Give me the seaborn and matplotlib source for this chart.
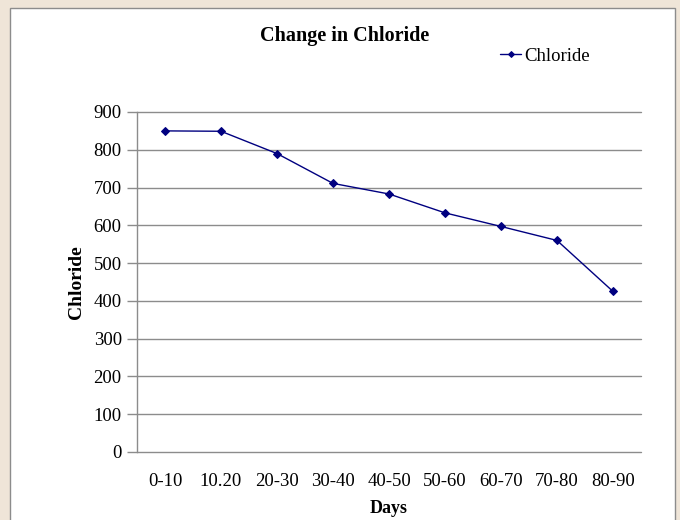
import matplotlib
matplotlib.use("Agg")
import matplotlib.pyplot as plt
import seaborn as sns
import pandas as pd
from matplotlib.patches import Rectangle

days = ["0-10", "10.20", "20-30", "30-40", "40-50", "50-60", "60-70", "70-80", "80-90"]
chloride = [850, 849, 790, 711, 683, 633, 597, 560, 425]
y_ticks = [0, 100, 200, 300, 400, 500, 600, 700, 800, 900]

df = pd.DataFrame({"Days": days, "Chloride": chloride})

sns.set_theme(style="white")
plt.rcParams["font.family"] = ["Liberation Serif", "DejaVu Serif"]
plt.rcParams["text.color"] = "black"
plt.rcParams["axes.labelcolor"] = "black"

fig = plt.figure(figsize=(6.8, 5.2), dpi=100)
fig.patch.set_facecolor("#efe5d8")

# white chart panel with grey frame, drawn beneath the axes
panel = Rectangle((10 / 680, -0.05), 665 / 680, 1 - 8 / 520 + 0.05,
                  transform=fig.transFigure, facecolor="white",
                  edgecolor="#8c8c8c", linewidth=1.0, zorder=-10)
fig.patches.append(panel)

ax = fig.add_axes([137 / 680, 1 - 452 / 520, (641 - 137) / 680, (452 - 112) / 520])
ax.patch.set_alpha(0)

sns.lineplot(data=df, x="Days", y="Chloride", ax=ax, color="#000080",
             marker="D", markersize=4, linewidth=1.0, sort=False,
             label="Chloride", markeredgecolor="#000080")

ax.set_xlim(-0.5, len(days) - 0.5)
ax.set_ylim(0, 900)
ax.set_yticks(y_ticks)
ax.yaxis.grid(False)
for v in y_ticks:
    ax.axhline(v, color="#8c8c8c", linewidth=1.0, zorder=0, clip_on=False)
for side in ["top", "right", "bottom"]:
    ax.spines[side].set_visible(False)
ax.spines["left"].set_color("#8c8c8c")
ax.spines["left"].set_linewidth(1.0)
ax.tick_params(axis="y", which="major", left=True, length=7, width=1,
               color="#8c8c8c", labelsize=13.5, pad=4, labelcolor="black")
ax.tick_params(axis="x", bottom=False, labelsize=13.5, pad=9, labelcolor="black")

ax.set_xlabel("Days", fontsize=13, fontweight="bold", labelpad=7)
ax.set_ylabel("Chloride", fontsize=14, fontweight="bold", labelpad=6)

fig.text(345 / 680, 1 - 36 / 520, "Change in Chloride", ha="center", va="center",
         fontsize=14.5, fontweight="bold")

ax.legend(loc="center left", bbox_to_anchor=(491 / 680, 1 - 56 / 520),
          bbox_transform=fig.transFigure, frameon=False, fontsize=13.5,
          handlelength=1.1, handletextpad=0.15, borderpad=0,
          markerscale=0.75)

fig.savefig("out.png", dpi=100, facecolor=fig.get_facecolor())
